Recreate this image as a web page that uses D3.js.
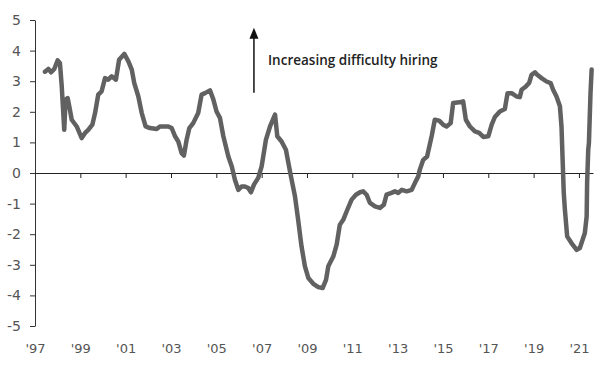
<!DOCTYPE html>
<html>
<head>
<meta charset="utf-8">
<script src="https://cdn.jsdelivr.net/npm/d3@7"></script>
<style>
  body { margin: 0; background: #fff; }
  svg text { font-family: "DejaVu Sans", sans-serif; }
</style>
</head>
<body>
<div id="chart"></div>
<script>
// decimal years
const dates = [
  1997.44, 1997.59, 1997.71, 1997.85, 1998.00, 1998.10, 1998.18, 1998.29, 1998.35, 1998.44,
  1998.54, 1998.62, 1998.84, 1999.06, 1999.21, 1999.35, 1999.53, 1999.65, 1999.79, 1999.94,
  2000.09, 2000.23, 2000.38, 2000.57, 2000.71, 2000.94, 2001.12, 2001.27, 2001.38, 2001.56,
  2001.71, 2001.88, 2002.07, 2002.37, 2002.51, 2002.88, 2003.03, 2003.18, 2003.32, 2003.47,
  2003.57, 2003.69, 2003.81, 2003.98, 2004.20, 2004.35, 2004.50, 2004.72, 2004.87, 2005.01,
  2005.16, 2005.31, 2005.53, 2005.68, 2005.82, 2005.97, 2006.12, 2006.26, 2006.41, 2006.53,
  2006.66, 2006.85, 2007.00, 2007.19, 2007.37, 2007.59, 2007.69, 2007.88, 2008.07, 2008.28,
  2008.47, 2008.61, 2008.76, 2008.91, 2009.06, 2009.28, 2009.50, 2009.69, 2009.84, 2009.94,
  2010.16, 2010.31, 2010.45, 2010.60, 2010.78, 2010.97, 2011.16, 2011.34, 2011.48, 2011.63,
  2011.78, 2012.00, 2012.22, 2012.39, 2012.51, 2012.73, 2012.88, 2013.03, 2013.18, 2013.40,
  2013.62, 2013.76, 2013.91, 2013.98, 2014.13, 2014.30, 2014.50, 2014.64, 2014.83, 2015.01,
  2015.16, 2015.34, 2015.45, 2015.72, 2015.89, 2016.01, 2016.19, 2016.41, 2016.60, 2016.78,
  2017.00, 2017.15, 2017.29, 2017.51, 2017.73, 2017.85, 2018.03, 2018.25, 2018.39, 2018.47,
  2018.66, 2018.80, 2018.91, 2019.06, 2019.16, 2019.35, 2019.57, 2019.75, 2019.86, 2020.01,
  2020.16, 2020.23, 2020.28, 2020.33, 2020.38, 2020.48, 2020.67, 2020.90, 2021.04, 2021.26,
  2021.34, 2021.36, 2021.41, 2021.44, 2021.51, 2021.56
];
const values = [
  3.31, 3.40, 3.29, 3.40, 3.68, 3.59, 2.83, 1.41, 2.40, 2.45,
  2.07, 1.74, 1.52, 1.14, 1.31, 1.41, 1.58, 1.96, 2.56, 2.67,
  3.10, 3.05, 3.16, 3.05, 3.70, 3.89, 3.65, 3.38, 2.94, 2.50,
  1.96, 1.52, 1.47, 1.44, 1.52, 1.52, 1.47, 1.20, 1.03, 0.65,
  0.57, 1.09, 1.47, 1.63, 1.96, 2.56, 2.61, 2.70, 2.40, 2.01,
  1.80, 1.20, 0.54, 0.22, -0.22, -0.55, -0.44, -0.44, -0.49, -0.63,
  -0.38, -0.16, 0.22, 1.09, 1.52, 1.91, 1.20, 1.03, 0.76, -0.06,
  -0.76, -1.53, -2.40, -3.05, -3.43, -3.62, -3.73, -3.76, -3.49, -3.05,
  -2.73, -2.34, -1.69, -1.53, -1.20, -0.87, -0.71, -0.63, -0.60, -0.71,
  -0.98, -1.09, -1.14, -1.04, -0.71, -0.65, -0.60, -0.65, -0.55, -0.60,
  -0.55, -0.33, -0.11, 0.11, 0.43, 0.54, 1.20, 1.74, 1.71, 1.58,
  1.52, 1.63, 2.29, 2.31, 2.34, 1.74, 1.52, 1.36, 1.31, 1.18,
  1.20, 1.58, 1.83, 2.01, 2.09, 2.61, 2.61, 2.50, 2.48, 2.72,
  2.83, 2.94, 3.21, 3.29, 3.21, 3.10, 2.99, 2.94, 2.72, 2.50,
  2.18, 1.52, 0.43, -0.65, -1.20, -2.07, -2.29, -2.51, -2.45, -1.96,
  -1.42, -0.33, 0.76, 0.98, 2.61, 3.38
];
const xTicks = [1997, 1999, 2001, 2003, 2005, 2007, 2009, 2011, 2013, 2015, 2017, 2019, 2021];
const yTicks = [-5, -4, -3, -2, -1, 0, 1, 2, 3, 4, 5];
const annotation = "Increasing difficulty hiring";

const width = 600, height = 366;
const margin = { top: 20, right: 7, bottom: 40, left: 35 };

const svg = d3.select("#chart").append("svg")
  .attr("width", width)
  .attr("height", height);

const x = d3.scaleLinear()
  .domain([1997, 2021.62])
  .range([margin.left, width - margin.right]);

const y = d3.scaleLinear()
  .domain([-5, 5])
  .range([326, 20]);

// y axis
const yAxis = svg.append("g")
  .attr("transform", `translate(${margin.left},0)`)
  .call(d3.axisLeft(y).tickValues(yTicks).tickSize(5).tickSizeOuter(0).tickPadding(9)
    .tickFormat(d => String(d)));
yAxis.select(".domain").attr("stroke", "#333");
yAxis.selectAll(".tick line").attr("stroke", "#333");
yAxis.selectAll("text").attr("fill", "#555").style("font-size", "14px");

// zero line with ticks
const xAxis = svg.append("g")
  .attr("transform", `translate(0,${y(0)})`)
  .call(d3.axisBottom(x).tickValues(xTicks.slice(1)).tickSize(5).tickSizeOuter(0).tickFormat(""));
xAxis.select(".domain").attr("stroke", "#222");
xAxis.selectAll(".tick line").attr("stroke", "#222");

// year labels along the bottom
const xLabels = svg.append("g")
  .attr("transform", `translate(0,${y(-5)})`)
  .call(d3.axisBottom(x).tickValues(xTicks).tickSize(0).tickPadding(18)
    .tickFormat(d => "'" + String(d).slice(2)));
xLabels.select(".domain").remove();
xLabels.selectAll("text").attr("fill", "#555").style("font-size", "13px");

// series
const line = d3.line()
  .x((d, i) => x(dates[i]))
  .y(d => y(d));

svg.append("path")
  .datum(values)
  .attr("fill", "none")
  .attr("stroke", "#616161")
  .attr("stroke-width", 4.5)
  .attr("stroke-linejoin", "round")
  .attr("stroke-linecap", "round")
  .attr("d", line);

// arrow annotation
const ax = x(2006.66), aTop = y(4.75), aBottom = y(2.62);
svg.append("line")
  .attr("x1", ax).attr("x2", ax)
  .attr("y1", aBottom).attr("y2", aTop + 8)
  .attr("stroke", "#111")
  .attr("stroke-width", 1.5);
svg.append("path")
  .attr("d", `M${ax},${aTop} L${ax - 4.5},${aTop + 11} L${ax + 4.5},${aTop + 11} Z`)
  .attr("fill", "#111");

svg.append("text")
  .attr("x", x(2007.28))
  .attr("y", y(3.54))
  .attr("fill", "#222")
  .style("font-family", "'Open Sans', sans-serif")
  .style("font-weight", 600)
  .style("font-size", "13.5px")
  .text(annotation);
</script>
</body>
</html>
